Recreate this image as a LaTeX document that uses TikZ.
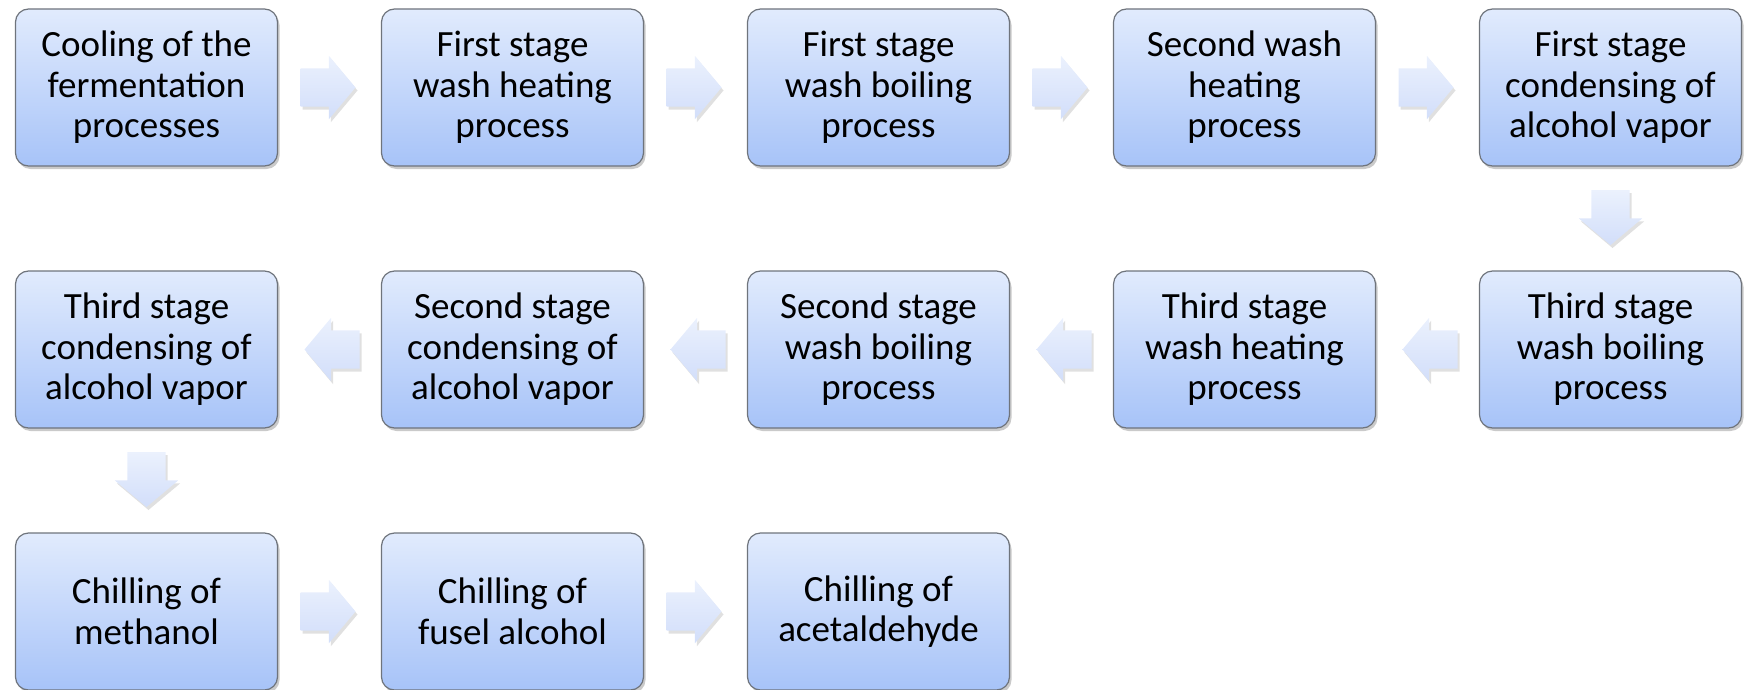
\documentclass[tikz,border=0pt]{standalone}
\usepackage{fontspec}
\setmainfont{Carlito}
\usetikzlibrary{positioning, shapes.arrows, shadows}
\definecolor{boxtop}{HTML}{E1EBFD}
\definecolor{boxbot}{HTML}{A7C3F8}
\definecolor{arrtop}{HTML}{EBF1FD}
\definecolor{arrbot}{HTML}{D2DEFA}
\definecolor{boxline}{HTML}{6F747C}

\begin{document}
\begin{tikzpicture}[
    x=1pt, y=1pt,
    node distance = 105pt and 104pt,
    stepbox/.style = {rectangle, rounded corners=13pt, draw=boxline, line width=1.2pt,
        top color=boxtop, bottom color=boxbot,
        minimum width=262pt, minimum height=157pt, outer sep=0pt,
        align=center, font=\fontsize{37}{40.5}\selectfont,
        drop shadow={shadow xshift=2pt, shadow yshift=-3pt, opacity=0.35, fill=black!60}},
    blockarrow/.style = {single arrow, draw=none, top color=arrtop, bottom color=arrbot,
        minimum height=55pt, inner xsep=0pt, inner ysep=19pt,
        single arrow head extend=12.5pt, single arrow tip angle=100, outer sep=0pt,
        drop shadow={shadow xshift=2pt, shadow yshift=-3pt, opacity=0.2, fill=black!60}},
    downarrow/.style = {blockarrow, shape border rotate=270, inner xsep=19pt, inner ysep=0pt},
    leftarrow/.style = {blockarrow, shape border rotate=180},
    ]

  \useasboundingbox (0,0) rectangle (1748,-690);

  % first row
  \node[stepbox] (s1) at (146.5,-87.5) {Cooling of the\\fermentation\\processes};
  \node[stepbox] (s2) [right=of s1] {First stage\\wash heating\\process};
  \node[stepbox] (s3) [right=of s2] {First stage\\wash boiling\\process};
  \node[stepbox] (s4) [right=of s3] {Second wash\\heating\\process};
  \node[stepbox] (s5) [right=of s4] {First stage\\condensing of\\alcohol vapor};

  % second row
  \node[stepbox] (s6) [below=of s5] {Third stage\\wash boiling\\process};
  \node[stepbox] (s7) [left=of s6] {Third stage\\wash heating\\process};
  \node[stepbox] (s8) [left=of s7] {Second stage\\wash boiling\\process};
  \node[stepbox] (s9) [left=of s8] {Second stage\\condensing of\\alcohol vapor};
  \node[stepbox] (s10) [left=of s9] {Third stage\\condensing of\\alcohol vapor};

  % third row
  \node[stepbox] (s11) [below=of s10] {Chilling of\\methanol};
  \node[stepbox] (s12) [right=of s11] {Chilling of\\fusel alcohol};
  \node[stepbox] (s13) [right=of s12] {Chilling of\\acetaldehyde};

  % arrows
  \node[blockarrow, right=23pt of s1, anchor=tail] (a1) {};
  \node[blockarrow, right=23pt of s2, anchor=tail] (a2) {};
  \node[blockarrow, right=23pt of s3, anchor=tail] (a3) {};
  \node[blockarrow, right=23pt of s4, anchor=tail] (a4) {};
  \node[downarrow, below=24pt of s5, anchor=tail] (a5) {};
  \node[leftarrow, left=22pt of s6, anchor=tail] (a6) {};
  \node[leftarrow, left=22pt of s7, anchor=tail] (a7) {};
  \node[leftarrow, left=22pt of s8, anchor=tail] (a8) {};
  \node[leftarrow, left=22pt of s9, anchor=tail] (a9) {};
  \node[downarrow, below=24pt of s10, anchor=tail] (a10) {};
  \node[blockarrow, right=23pt of s11, anchor=tail] (a11) {};
  \node[blockarrow, right=23pt of s12, anchor=tail] (a12) {};

\end{tikzpicture}
\end{document}
